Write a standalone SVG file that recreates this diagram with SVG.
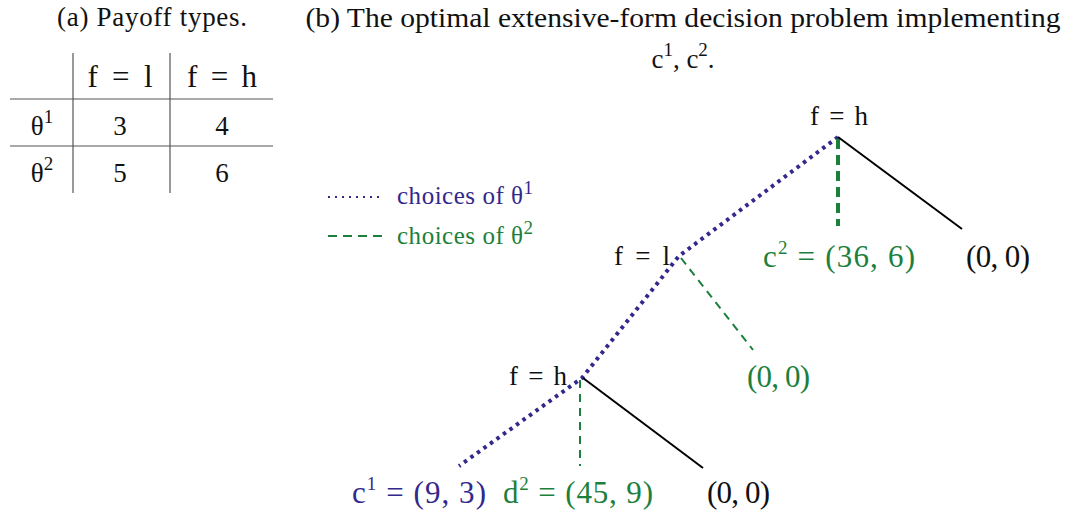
<svg xmlns="http://www.w3.org/2000/svg" width="1069" height="515" viewBox="0 0 1069 515">
<style>
text{font-family:"Liberation Serif","DejaVu Serif",serif;fill:#111}
.cap{font-size:27px}
.m{font-size:27px}
.h{font-size:31px}
.n{font-size:27px}
.lbl{font-size:31px}
.leg{font-size:25px}
.blue{fill:#33288c}
.green{fill:#1d7f3c}
.sup{font-size:19px}
.grid{stroke:#555;stroke-width:1.2}
</style>
<rect width="1069" height="515" fill="#fff"/>
<g id="table">
<text class="cap" x="152" y="26" text-anchor="middle" textLength="190" lengthAdjust="spacing">(a) Payoff types.</text>
<line class="grid" x1="73" y1="53" x2="73" y2="193"/>
<line class="grid" x1="170" y1="53" x2="170" y2="193"/>
<line class="grid" x1="10" y1="99" x2="273" y2="99"/>
<line class="grid" x1="10" y1="146" x2="273" y2="146"/>
<text class="h" x="120" y="87" text-anchor="middle" textLength="65" lengthAdjust="spacing">f = l</text>
<text class="h" x="222" y="87" text-anchor="middle" textLength="70" lengthAdjust="spacing">f = h</text>
<text class="m" x="42" y="135" text-anchor="middle">θ<tspan class="sup" dy="-12">1</tspan></text>
<text class="m" x="120" y="135" text-anchor="middle">3</text>
<text class="m" x="222" y="135" text-anchor="middle">4</text>
<text class="m" x="42" y="182" text-anchor="middle">θ<tspan class="sup" dy="-12">2</tspan></text>
<text class="m" x="120" y="182" text-anchor="middle">5</text>
<text class="m" x="222" y="182" text-anchor="middle">6</text>
</g>
<g id="title-b">
<text class="cap" x="683" y="27" text-anchor="middle" textLength="755" lengthAdjust="spacingAndGlyphs">(b) The optimal extensive-form decision problem implementing</text>
<text class="cap" x="683" y="68" text-anchor="middle">c<tspan class="sup" dy="-12">1</tspan><tspan dy="12">, c</tspan><tspan class="sup" dy="-12">2</tspan><tspan dy="12">.</tspan></text>
</g>
<g id="legend">
<line x1="328" y1="197" x2="382" y2="197" stroke="#33288c" stroke-width="2" stroke-dasharray="2 5"/>
<text class="leg blue" x="397" y="204" textLength="136" lengthAdjust="spacing">choices of θ<tspan class="sup" dy="-10">1</tspan></text>
<line x1="328" y1="236" x2="382" y2="236" stroke="#1d7f3c" stroke-width="2" stroke-dasharray="9 6"/>
<text class="leg green" x="397" y="244" textLength="136" lengthAdjust="spacing">choices of θ<tspan class="sup" dy="-10">2</tspan></text>
</g>
<g id="connectors" fill="none">
<polyline points="838,137 679,256 582,378 459,466" stroke="#33288c" stroke-width="4" stroke-dasharray="3.5 4.5"/>
<line x1="838" y1="139" x2="838" y2="226" stroke="#1d7f3c" stroke-width="4" stroke-dasharray="10 6"/>
<line x1="838" y1="137" x2="962" y2="229" stroke="#000" stroke-width="2"/>
<line x1="681" y1="258" x2="753" y2="350" stroke="#1d7f3c" stroke-width="2" stroke-dasharray="8 6"/>
<line x1="580" y1="380" x2="580" y2="466" stroke="#1d7f3c" stroke-width="2" stroke-dasharray="8 6"/>
<line x1="583" y1="378" x2="703" y2="468" stroke="#000" stroke-width="2"/>
</g>
<g id="node-top"><text class="n" x="839" y="125" text-anchor="middle" textLength="58" lengthAdjust="spacing">f = h</text></g>
<g id="node-mid"><text class="n" x="642" y="265" text-anchor="middle" textLength="56" lengthAdjust="spacing">f = l</text></g>
<g id="node-bot"><text class="n" x="538" y="385" text-anchor="middle" textLength="58" lengthAdjust="spacing">f = h</text></g>
<g id="leaf-c2"><text class="lbl green" x="763" y="267" textLength="152" lengthAdjust="spacing">c<tspan class="sup" dy="-13">2</tspan><tspan dy="13"> = (36, 6)</tspan></text></g>
<g id="leaf-top-00"><text class="lbl" x="966" y="267" textLength="64" lengthAdjust="spacing">(0, 0)</text></g>
<g id="leaf-mid-00"><text class="lbl green" x="747" y="387" textLength="63" lengthAdjust="spacing">(0, 0)</text></g>
<g id="leaf-c1"><text class="lbl blue" x="352" y="503" textLength="134" lengthAdjust="spacing">c<tspan class="sup" dy="-13">1</tspan><tspan dy="13"> = (9, 3)</tspan></text></g>
<g id="leaf-d2"><text class="lbl green" x="503" y="503" textLength="150" lengthAdjust="spacing">d<tspan class="sup" dy="-13">2</tspan><tspan dy="13"> = (45, 9)</tspan></text></g>
<g id="leaf-bot-00"><text class="lbl" x="707" y="503" textLength="63" lengthAdjust="spacing">(0, 0)</text></g>
</svg>
